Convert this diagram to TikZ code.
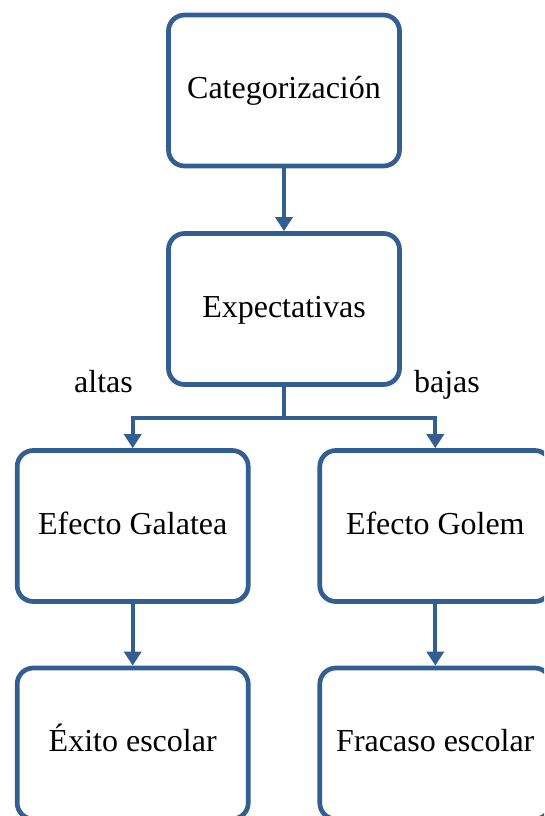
\documentclass[tikz,border=0pt]{standalone}
\usepackage{fontspec}
\setmainfont{Liberation Serif}
\usetikzlibrary{arrows.meta}
\definecolor{boxblue}{HTML}{335E92}
\begin{document}
\begin{tikzpicture}[x=1pt,y=-1pt,
  stage/.style={draw=boxblue, line width=4.7pt, rounded corners=16pt,
    minimum width=231pt, minimum height=151pt, inner sep=0pt,
    text height=23pt, text depth=7pt,
    font=\fontsize{32}{38}\selectfont},
  flow/.style={draw=boxblue, line width=4pt,
    -{Triangle[width=17pt,length=14pt]}},
  tag/.style={font=\fontsize{32}{38}\selectfont, inner sep=0pt, anchor=base}]
\useasboundingbox (0,0) rectangle (544,816);
\clip (0,0) rectangle (544,816);
% main chain
\node[stage] (cat) at (284,90.5) {Categorización};
\node[stage] (exp) at (284,309) {Expectativas};
% branches
\node[stage] (gal) at (132.7,526) {Efecto Galatea};
\node[stage] (gol) at (435.3,526) {Efecto Golem};
\node[stage] (exi) at (132.7,743.5) {Éxito escolar};
\node[stage] (fra) at (435.3,743.5) {Fracaso escolar};
% connectors
\coordinate (split) at (284,418);
\draw[flow] (cat.south) -- (exp.north);
\draw[draw=boxblue, line width=4pt] (exp.south) -- (split);
\draw[flow] (split) -| (gal.north);
\draw[flow] (split) -| (gol.north);
\draw[flow] (gal.south) -- (exi.north);
\draw[flow] (gol.south) -- (fra.north);
% branch labels
\node[tag] (alt) at (103.5,392) {altas};
\node[tag] (baj) at (447,392) {bajas};
\end{tikzpicture}
\end{document}
